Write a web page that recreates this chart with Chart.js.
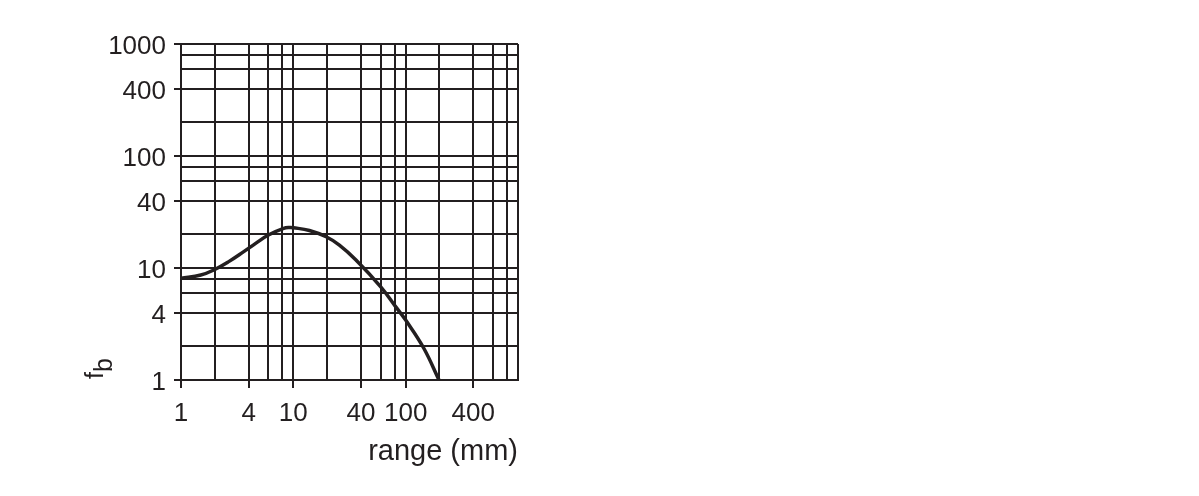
<!DOCTYPE html>
<html>
<head>
<meta charset="utf-8">
<script src="https://cdn.jsdelivr.net/npm/chart.js@4.4.1/dist/chart.umd.min.js"></script>
<style>
  html, body { margin: 0; padding: 0; background: #fff; }
  #wrap { position: absolute; left: 0; top: 0; width: 1199px; height: 496px; }
</style>
</head>
<body>
<div id="wrap"><canvas id="myChart" width="1199" height="496"></canvas></div>
<script>
const ctx = document.getElementById("myChart");

// curve (log-log)
const rangeMm = [1, 1.5, 1.96, 2.66, 3.62, 4.62, 6, 8.2, 9.3, 10, 13.9, 19.6, 25.7, 36.1, 60, 81.7, 100, 145, 198];
const fbValues = [8.1, 8.66, 9.6, 11.4, 14.0, 16.6, 19.7, 22.6, 23.0, 22.9, 21.6, 19.0, 16.0, 11.8, 6.8, 4.5, 3.43, 1.92, 1.0];

// grid lines of the log paper, and which of them carry a label
const gridValues = [1, 2, 4, 6, 8, 10, 20, 40, 60, 80, 100, 200, 400, 600, 800, 1000];
const xTickLabels = ["1", "4", "10", "40", "100", "400"];
const yTickLabels = ["1", "4", "10", "40", "100", "400", "1000"];

const ink = "#231f20";
const fontFamily = "'Liberation Sans', Arial, Helvetica, sans-serif";

// y axis title "f" with subscript "b", rotated
const fbLabel = {
  id: "fbLabel",
  afterDraw(chart) {
    const c = chart.ctx;
    c.save();
    c.fillStyle = ink;
    c.font = "25px " + fontFamily;
    c.textBaseline = "alphabetic";
    c.textAlign = "left";
    c.translate(103, 379);
    c.rotate(-Math.PI / 2);
    c.fillText("f", 0, 0);
    const w = c.measureText("f").width;
    c.fillText("b", w, 9);
    c.restore();
  },
};

function setTicks(scale) {
  scale.ticks = gridValues.map((v) => ({ value: v }));
}

new Chart(ctx, {
  type: "line",
  data: {
    datasets: [
      {
        label: "fb",
        data: rangeMm.map((x, i) => ({ x: x, y: fbValues[i] })),
        borderColor: ink,
        borderWidth: 3.5,
        pointRadius: 0,
        tension: 0.4,
        fill: false,
      },
    ],
  },
  options: {
    responsive: false,
    animation: false,
    devicePixelRatio: 1,
    layout: { padding: { top: 44, right: 681, left: 0, bottom: 0 } },
    plugins: { legend: { display: false }, tooltip: { enabled: false } },
    scales: {
      x: {
        type: "logarithmic",
        min: 1,
        max: 1000,
        afterBuildTicks: setTicks,
        afterFit: (s) => { s.height = 116; },
        grid: {
          color: ink,
          lineWidth: 2,
          tickLength: 8,
          tickColor: (c) => (xTickLabels.includes(String(c.tick && c.tick.value)) ? ink : "rgba(0,0,0,0)"),
          tickWidth: 2,
        },
        border: { color: ink, width: 2 },
        ticks: {
          autoSkip: false,
          maxRotation: 0,
          color: ink,
          padding: 10,
          font: { family: fontFamily, size: 26 },
          callback: (v) => (xTickLabels.includes(String(v)) ? String(v) : ""),
        },
        title: {
          display: true,
          text: "range (mm)",
          align: "end",
          color: ink,
          font: { family: fontFamily, size: 29 },
          padding: { top: 0, bottom: 27 },
        },
      },
      y: {
        type: "logarithmic",
        min: 1,
        max: 1000,
        afterBuildTicks: setTicks,
        afterFit: (s) => { s.width = 181; },
        grid: {
          color: ink,
          lineWidth: 2,
          tickLength: 7,
          tickColor: (c) => (yTickLabels.includes(String(c.tick && c.tick.value)) ? ink : "rgba(0,0,0,0)"),
          tickWidth: 2,
        },
        border: { color: ink, width: 2 },
        ticks: {
          autoSkip: false,
          color: ink,
          padding: 8,
          labelOffset: 3,
          font: { family: fontFamily, size: 26 },
          callback: (v) => (yTickLabels.includes(String(v)) ? String(v) : ""),
        },
      },
    },
  },
  plugins: [fbLabel],
});
</script>
</body>
</html>
